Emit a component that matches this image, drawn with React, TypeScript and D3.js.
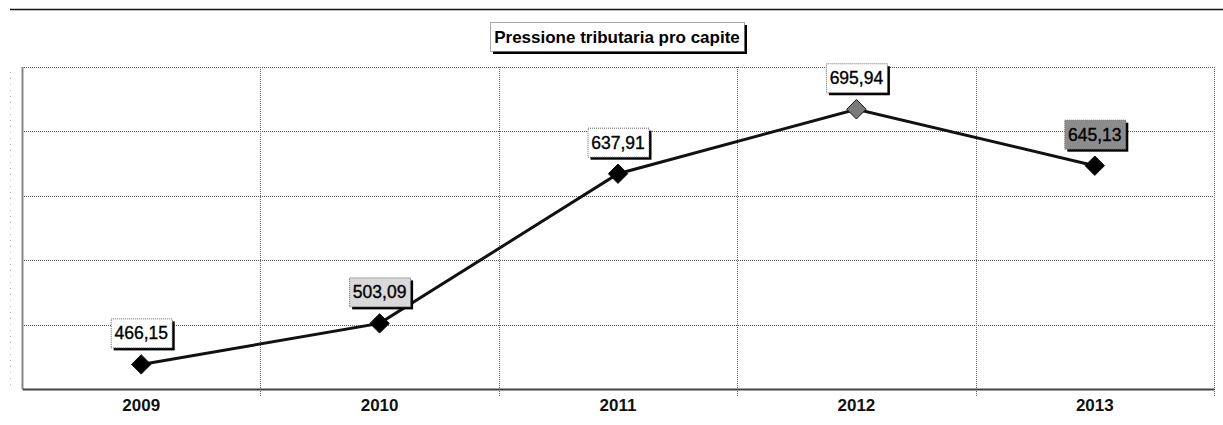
import { useEffect, useRef } from 'react';
import * as d3 from 'd3';

const years = ['2009', '2010', '2011', '2012', '2013'];
const values = [466.15, 503.09, 637.91, 695.94, 645.13];
const valueLabels = ['466,15', '503,09', '637,91', '695,94', '645,13'];
const gridValues = [444, 502, 560, 618, 676, 734];
const title = 'Pressione tributaria pro capite';

// label box fill per point (scan shows some boxes shaded)
const labelFills = ['#ffffff', '#d9d9d9', '#ffffff', '#ffffff', '#8c8c8c'];
const markerFills = ['#000000', '#000000', '#000000', '#7a7a7a', '#000000'];

export default function App() {
  const svgRef = useRef<SVGSVGElement | null>(null);

  useEffect(() => {
    if (!svgRef.current) return;
    const width = 1223;
    const height = 425;
    const margin = { top: 67, right: 9, bottom: 36, left: 22 };
    const innerW = width - margin.left - margin.right;
    const innerH = height - margin.top - margin.bottom;
    const font = 'Liberation Sans, Arial, sans-serif';

    const svg = d3.select(svgRef.current);
    svg.selectAll('*').remove();
    svg.attr('width', width).attr('height', height);

    svg.append('rect').attr('width', width).attr('height', height).attr('fill', '#ffffff');

    // top rule
    svg.append('line')
      .attr('x1', 10).attr('x2', width).attr('y1', 9.5).attr('y2', 9.5)
      .attr('stroke', '#111').attr('stroke-width', 1.6);

    const g = svg.append('g').attr('transform', `translate(${margin.left},${margin.top})`);

    const x = d3.scaleBand().domain(years).range([0, innerW]).padding(0);
    const y = d3.scaleLinear().domain([gridValues[0], gridValues[gridValues.length - 1]]).range([innerH, 0]);

    // horizontal grid
    g.selectAll('.hgrid')
      .data(gridValues.slice(1))
      .join('line')
      .attr('x1', 0).attr('x2', innerW)
      .attr('y1', d => Math.round(y(d)) + 0.5).attr('y2', d => Math.round(y(d)) + 0.5)
      .attr('stroke', '#555').attr('stroke-width', 1).attr('stroke-dasharray', '1,1');

    // vertical grid between categories
    g.selectAll('.vgrid')
      .data(years.slice(1))
      .join('line')
      .attr('x1', d => Math.round(x(d)!) + 0.5).attr('x2', d => Math.round(x(d)!) + 0.5)
      .attr('y1', 0).attr('y2', innerH + 8)
      .attr('stroke', '#666').attr('stroke-width', 1).attr('stroke-dasharray', '1,1');

    // right edge
    g.append('line')
      .attr('x1', innerW + 0.5).attr('x2', innerW + 0.5).attr('y1', 0).attr('y2', innerH + 8)
      .attr('stroke', '#666').attr('stroke-dasharray', '1,1');

    // left axis
    g.append('line')
      .attr('x1', 0.5).attr('x2', 0.5).attr('y1', 0).attr('y2', innerH)
      .attr('stroke', '#888').attr('stroke-width', 2);
    svg.append('line')
      .attr('x1', 10.5).attr('x2', 10.5).attr('y1', 72).attr('y2', 390)
      .attr('stroke', '#bbb').attr('stroke-dasharray', '1,5');

    // bottom axis
    g.append('g')
      .attr('transform', `translate(0,${innerH})`)
      .call(d3.axisBottom(x).tickSize(0).tickPadding(10))
      .call(s => s.select('.domain').attr('stroke', '#444').attr('stroke-width', 2))
      .selectAll('text')
      .attr('fill', '#111')
      .attr('font-family', font)
      .attr('font-size', '17px')
      .attr('font-weight', 'bold');

    const cx = (i: number) => x(years[i])! + x.bandwidth() / 2;

    // line
    const line = d3.line<number>()
      .x((_, i) => cx(i))
      .y(d => y(d));
    g.append('path')
      .datum(values)
      .attr('d', line)
      .attr('fill', 'none')
      .attr('stroke', '#111')
      .attr('stroke-width', 3);

    // markers
    g.selectAll('.marker')
      .data(values)
      .join('path')
      .attr('d', d3.symbol().type(d3.symbolDiamond2).size(240)())
      .attr('transform', (d, i) => `translate(${cx(i)},${y(d)})`)
      .attr('fill', (_, i) => markerFills[i])
      .attr('stroke', '#111')
      .attr('stroke-width', 1);

    // value labels
    const boxW = 61;
    const boxH = 29;
    const labels = g.selectAll('.vlabel')
      .data(values)
      .join('g')
      .attr('transform', (d, i) => `translate(${cx(i) - boxW / 2},${y(d) - 17 - boxH})`);
    labels.append('rect')
      .attr('x', 3).attr('y', 3).attr('width', boxW).attr('height', boxH)
      .attr('fill', '#000');
    labels.append('rect')
      .attr('x', 0.5).attr('y', 0.5).attr('width', boxW).attr('height', boxH)
      .attr('fill', (_, i) => labelFills[i])
      .attr('stroke', '#666').attr('stroke-dasharray', '1,1');
    labels.append('text')
      .attr('x', boxW / 2).attr('y', boxH / 2 + 6.5)
      .attr('text-anchor', 'middle')
      .attr('font-family', font)
      .attr('font-size', '17.5px')
      .attr('fill', '#000')
      .attr('stroke', '#000')
      .attr('stroke-width', 0.35)
      .text((_, i) => valueLabels[i]);

    // title
    const tg = svg.append('g').attr('transform', 'translate(490,22)');
    tg.append('rect').attr('x', 3).attr('y', 3).attr('width', 254).attr('height', 29).attr('fill', '#000');
    tg.append('rect').attr('x', 0.5).attr('y', 0.5).attr('width', 254).attr('height', 29)
      .attr('fill', '#fff').attr('stroke', '#555').attr('stroke-dasharray', '1,1');
    tg.append('text')
      .attr('x', 127).attr('y', 21)
      .attr('text-anchor', 'middle')
      .attr('font-family', font)
      .attr('font-size', '17px')
      .attr('font-weight', 'bold')
      .attr('fill', '#000')
      .text(title);
  }, []);

  return (
    <div style={{ position: 'absolute', left: 0, top: 0 }}>
      <svg ref={svgRef}></svg>
    </div>
  );
}
